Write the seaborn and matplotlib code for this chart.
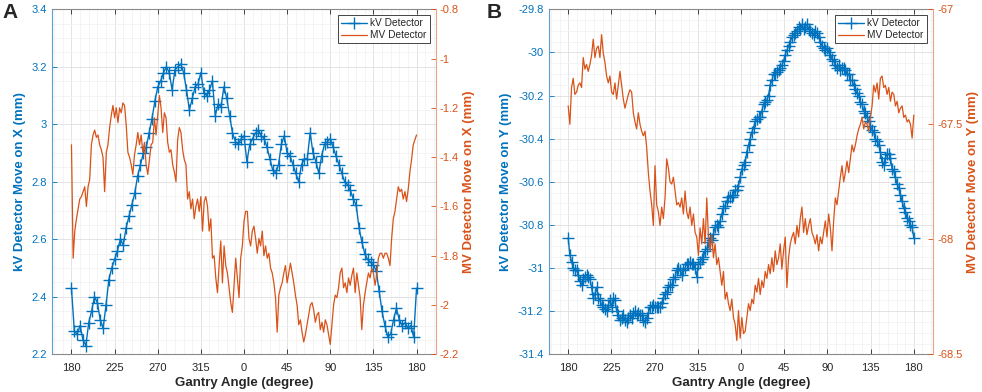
import numpy as np
import seaborn as sns
import matplotlib.pyplot as plt
from matplotlib.ticker import MultipleLocator, AutoMinorLocator, FuncFormatter

sns.set_style("ticks")
plt.rcParams['font.family'] = ['Liberation Sans', 'DejaVu Sans']

BLUE = '#0072BD'
ORANGE = '#D95319'
DARK = '#262626'

# gantry angle runs 180 -> 359 -> 0 -> 180, kept unwrapped as 180..540
tick_pos = [180, 225, 270, 315, 360, 405, 450, 495, 540]
tick_labels = ['180', '225', '270', '315', '0', '45', '90', '135', '180']

# panel A: kV detector shift on X (mm), left axis
kv_x = [2.43, 2.28, 2.27, 2.30, 2.25, 2.23, 2.31, 2.35, 2.40, 2.38,
        2.32, 2.29, 2.37, 2.46, 2.50, 2.53, 2.56, 2.60, 2.58, 2.64,
        2.68, 2.72, 2.76, 2.82, 2.86, 2.90, 2.92, 2.97, 3.02, 3.08,
        3.13, 3.15, 3.18, 3.20, 3.18, 3.12, 3.19, 3.20, 3.21, 3.18,
        3.12, 3.05, 3.09, 3.13, 3.14, 3.18, 3.11, 3.10, 3.12, 3.15,
        3.03, 3.07, 3.06, 3.13, 3.09, 3.03, 2.97, 2.94, 2.93, 2.95,
        2.96, 2.87, 2.93, 2.95, 2.97, 2.98, 2.96, 2.95, 2.92, 2.88,
        2.84, 2.83, 2.86, 2.93, 2.96, 2.90, 2.89, 2.86, 2.83, 2.80,
        2.86, 2.88, 2.88, 2.97, 2.90, 2.87, 2.83, 2.89, 2.93, 2.94,
        2.95, 2.92, 2.89, 2.86, 2.83, 2.80, 2.79, 2.77, 2.74, 2.72,
        2.64, 2.59, 2.55, 2.53, 2.52, 2.51, 2.49, 2.42, 2.35, 2.30,
        2.26, 2.27, 2.32, 2.36, 2.32, 2.30, 2.31, 2.29, 2.30, 2.26,
        2.43]

# panel A: MV detector shift on X (mm), right axis
mv_x = [-1.35, -1.81, -1.70, -1.65, -1.61, -1.57, -1.56, -1.54, -1.52, -1.60,
        -1.52, -1.49, -1.35, -1.31, -1.29, -1.32, -1.31, -1.35, -1.37, -1.40,
        -1.54, -1.38, -1.35, -1.28, -1.23, -1.19, -1.24, -1.20, -1.26, -1.20,
        -1.22, -1.18, -1.19, -1.27, -1.38, -1.40, -1.43, -1.47, -1.39, -1.35,
        -1.30, -1.35, -1.31, -1.38, -1.34, -1.43, -1.47, -1.41, -1.35, -1.34,
        -1.24, -1.31, -1.23, -1.15, -1.20, -1.30, -1.22, -1.24, -1.34, -1.38,
        -1.37, -1.43, -1.46, -1.50, -1.33, -1.28, -1.30, -1.37, -1.41, -1.43,
        -1.57, -1.54, -1.61, -1.57, -1.65, -1.60, -1.57, -1.62, -1.56, -1.70,
        -1.58, -1.56, -1.60, -1.70, -1.65, -1.81, -1.80, -1.89, -1.95, -1.84,
        -1.74, -1.91, -1.76, -1.84, -1.87, -1.93, -1.99, -2.03, -1.92, -1.81,
        -1.89, -1.97, -1.81, -1.76, -1.66, -1.62,
        -1.62, -1.73, -1.76, -1.70, -1.68, -1.73, -1.79, -1.73, -1.76, -1.70,
        -1.80, -1.76, -1.81, -1.79, -1.85, -1.87, -1.91, -1.97, -2.11, -1.96,
        -1.93, -1.91, -1.87, -1.84, -1.91, -1.87, -1.83, -1.87, -1.91, -1.96,
        -2.00, -2.08, -2.06, -2.11, -2.15, -2.12, -2.08, -2.04, -2.00, -1.99,
        -2.02, -2.07, -2.04, -2.03, -2.10, -2.07, -2.11, -2.06, -2.08, -2.12,
        -2.16, -2.08, -2.00, -1.96, -1.97, -1.93, -1.87, -1.85, -1.93, -1.91,
        -1.95, -1.89, -1.92, -1.88, -1.85, -1.95, -1.87, -1.92, -1.97, -2.10,
        -2.00, -1.95, -1.91, -1.87, -1.89, -1.85, -1.87, -1.92, -1.88, -1.81,
        -1.79, -1.79, -1.81, -1.79, -1.79, -1.81, -1.84, -1.73, -1.65, -1.62,
        -1.57, -1.52, -1.54, -1.53, -1.57, -1.54, -1.58, -1.53, -1.46, -1.41,
        -1.35, -1.33, -1.31]

# panel B: kV detector shift on Y (mm), left axis
kv_y = [-30.86, -30.94, -30.97, -31.00, -31.01, -31.01, -31.03, -31.06, -31.08, -31.05,
        -31.04, -31.03, -31.04, -31.05, -31.09, -31.14, -31.12, -31.09, -31.14, -31.15,
        -31.17, -31.18, -31.19, -31.20, -31.17, -31.15, -31.18, -31.14, -31.15, -31.20,
        -31.22, -31.24, -31.23, -31.22, -31.24, -31.25, -31.23, -31.22, -31.23, -31.21,
        -31.20, -31.22, -31.21, -31.22, -31.22, -31.24, -31.25, -31.23, -31.21, -31.18,
        -31.18, -31.17, -31.18, -31.18, -31.18, -31.18, -31.16, -31.14, -31.12, -31.11,
        -31.09, -31.08, -31.08, -31.05, -31.04, -31.01, -31.00, -31.01, -31.03, -31.01,
        -31.00, -30.98, -30.98, -30.97, -30.98, -30.98, -31.00, -31.04, -30.98, -30.97,
        -30.96, -30.95, -30.92, -30.91, -30.88, -30.86, -30.87, -30.84, -30.81, -30.80,
        -30.81, -30.78, -30.75, -30.72, -30.71, -30.69, -30.67, -30.67, -30.67, -30.66,
        -30.64, -30.64, -30.62, -30.58, -30.54, -30.52,
        -30.51, -30.46, -30.43, -30.40, -30.37, -30.35, -30.32, -30.31, -30.30, -30.30,
        -30.27, -30.24, -30.23, -30.22, -30.20, -30.15, -30.13, -30.10, -30.10, -30.09,
        -30.08, -30.07, -30.06, -30.04, -30.01, -29.99, -29.97, -29.95, -29.93, -29.92,
        -29.91, -29.90, -29.88, -29.89, -29.87, -29.89, -29.88, -29.87, -29.89, -29.90,
        -29.91, -29.92, -29.90, -29.91, -29.93, -29.95, -29.97, -29.98, -29.99, -29.98,
        -30.00, -30.01, -30.03, -30.04, -30.06, -30.07, -30.06, -30.08, -30.07, -30.07,
        -30.08, -30.10, -30.10, -30.13, -30.13, -30.15, -30.17, -30.19, -30.20, -30.23,
        -30.24, -30.27, -30.28, -30.30, -30.32, -30.34, -30.36, -30.37, -30.40, -30.41,
        -30.43, -30.46, -30.51, -30.52, -30.49, -30.47, -30.47, -30.49, -30.54, -30.55,
        -30.58, -30.61, -30.63, -30.66, -30.69, -30.72, -30.74, -30.77, -30.78, -30.80,
        -30.81, -30.86]

# panel B: MV detector shift on Y (mm), right axis
mv_y = [-67.42, -67.50, -67.34, -67.30, -67.37, -67.36, -67.33, -67.32, -67.34, -67.21,
        -67.26, -67.24, -67.27, -67.24, -67.20, -67.13, -67.21, -67.17, -67.16, -67.21,
        -67.11, -67.19, -67.23, -67.29, -67.32, -67.29, -67.36, -67.37, -67.32, -67.39,
        -67.33, -67.27, -67.33, -67.39, -67.43, -67.40, -67.37, -67.35, -67.36, -67.45,
        -67.49, -67.52, -67.45, -67.50, -67.53, -67.55, -67.53, -67.60, -67.71, -67.79,
        -67.85, -67.94, -67.68, -67.85, -67.88, -67.94, -67.86, -67.91, -67.82, -67.65,
        -67.69, -67.75, -67.76, -67.73, -67.79, -67.85, -67.84, -67.86, -67.82, -67.89,
        -67.79, -67.88, -67.91, -67.86, -67.94, -67.89, -67.97, -67.99, -68.07, -67.95,
        -68.02, -67.91, -68.02, -67.82, -67.99, -68.05, -67.98, -68.08, -68.02, -68.11,
        -68.08, -68.14, -68.20, -68.14, -68.26, -68.23, -68.28, -68.31, -68.26, -68.34,
        -68.37, -68.44, -68.31, -68.43, -68.34, -68.41,
        -68.40, -68.34, -68.28, -68.31, -68.26, -68.28, -68.20, -68.23, -68.17, -68.24,
        -68.18, -68.21, -68.14, -68.17, -68.11, -68.15, -68.08, -68.14, -68.05, -68.11,
        -68.08, -68.02, -68.13, -68.05, -67.99, -68.21, -68.08, -68.02, -67.99, -67.97,
        -68.02, -67.94, -67.99, -67.91, -67.86, -67.97, -67.91, -67.98, -67.94, -67.91,
        -67.97, -67.99, -68.02, -67.98, -68.05, -67.99, -68.02, -67.97, -67.92, -67.99,
        -67.89, -67.95, -68.05, -67.92, -67.82, -67.85, -67.79, -67.73, -67.68, -67.75,
        -67.71, -67.66, -67.71, -67.65, -67.59, -67.62, -67.59, -67.55, -67.52, -67.50,
        -67.47, -67.52, -67.49, -67.50, -67.53, -67.47, -67.42, -67.33, -67.36, -67.32,
        -67.39, -67.30, -67.29, -67.34, -67.33, -67.37, -67.34, -67.40, -67.36, -67.37,
        -67.42, -67.40, -67.45, -67.43, -67.42, -67.47, -67.46, -67.49, -67.48, -67.50,
        -67.56, -67.46]


def fmt(v, pos):
    return f'{round(v, 3):g}'


def draw_panel(ax, kv, mv, axis_name, kv_lim, kv_step, mv_lim, mv_step):
    ang_kv = np.linspace(180, 540, len(kv))
    ang_mv = np.linspace(180, 540, len(mv))

    sns.lineplot(x=ang_kv, y=kv, ax=ax, color=BLUE, linewidth=1.0,
                 marker='+', markersize=8, markeredgewidth=1.0,
                 markeredgecolor=BLUE, sort=False, estimator=None)
    ax2 = ax.twinx()
    sns.lineplot(x=ang_mv, y=mv, ax=ax2, color=ORANGE, linewidth=0.9,
                 sort=False, estimator=None)

    ax.set_xlim(160, 560)
    ax.set_xticks(tick_pos)
    ax.set_xticklabels(tick_labels)
    ax.xaxis.set_minor_locator(AutoMinorLocator(5))

    ax.set_ylim(*kv_lim)
    ax.yaxis.set_major_locator(MultipleLocator(kv_step))
    ax.yaxis.set_minor_locator(AutoMinorLocator(4))
    ax.yaxis.set_major_formatter(FuncFormatter(fmt))
    ax2.set_ylim(*mv_lim)
    ax2.yaxis.set_major_locator(MultipleLocator(mv_step))
    ax2.yaxis.set_major_formatter(FuncFormatter(fmt))

    ax.grid(True, which='major', color='#dedede', linewidth=0.6)
    ax.grid(True, which='minor', color='#f0f0f0', linewidth=0.5)
    ax.set_axisbelow(True)

    ax.tick_params(axis='x', which='major', direction='in', top=True,
                   length=3.5, width=0.6, color=DARK, labelcolor=DARK,
                   labelsize=8, pad=6)
    ax.tick_params(axis='y', which='major', direction='in', length=3.5,
                   width=0.6, color=BLUE, labelcolor=BLUE, labelsize=8, pad=4)
    ax.tick_params(which='minor', length=0)
    ax2.tick_params(axis='y', which='major', direction='in', length=3.5,
                    width=0.6, color=ORANGE, labelcolor=ORANGE, labelsize=8, pad=3)
    ax2.tick_params(which='minor', length=0)

    for s in ['top', 'bottom']:
        ax.spines[s].set_color('#8a8a8a')
        ax.spines[s].set_linewidth(0.8)
        ax2.spines[s].set_visible(False)
    ax.spines['left'].set_color('#5a9fd4')
    ax.spines['left'].set_linewidth(0.8)
    ax.spines['right'].set_visible(False)
    ax2.spines['left'].set_visible(False)
    ax2.spines['right'].set_color('#eba384')
    ax2.spines['right'].set_linewidth(0.8)

    ax.set_xlabel('Gantry Angle (degree)', fontsize=9.5, fontweight='bold',
                  color=DARK, labelpad=3)
    ax.set_ylabel(f'kV Detector Move on {axis_name} (mm)', fontsize=9.5,
                  fontweight='bold', color=BLUE, labelpad=4)
    ax2.set_ylabel(f'MV Detector Move on {axis_name} (mm)', fontsize=9.5,
                   fontweight='bold', color=ORANGE, labelpad=3)

    leg = ax2.legend([ax.get_lines()[0], ax2.get_lines()[0]],
                     ['kV Detector', 'MV Detector'], loc='upper right',
                     fontsize=7.3, frameon=True, fancybox=False,
                     edgecolor=DARK, framealpha=1, borderaxespad=0.6,
                     handlelength=2.6, borderpad=0.3, labelspacing=0.2,
                     handletextpad=0.3)
    leg.get_frame().set_linewidth(0.6)
    return ax2


fig = plt.figure(figsize=(9.82, 3.92), dpi=100)
ax_a = fig.add_axes([52.3 / 982, 37.7 / 392, 383.4 / 982, 345 / 392])
ax_b = fig.add_axes([549 / 982, 37.7 / 392, 384 / 982, 345 / 392])

draw_panel(ax_a, kv_x, mv_x, 'X', (2.2, 3.4), 0.2, (-2.2, -0.8), 0.2)
draw_panel(ax_b, kv_y, mv_y, 'Y', (-31.4, -29.8), 0.2, (-68.5, -67.0), 0.5)

fig.text(2 / 982, 1 - 3 / 392, 'A', fontsize=15, fontweight='bold', va='top')
fig.text(487 / 982, 1 - 3 / 392, 'B', fontsize=15, fontweight='bold', va='top')

fig.savefig('out.png', dpi=100)
